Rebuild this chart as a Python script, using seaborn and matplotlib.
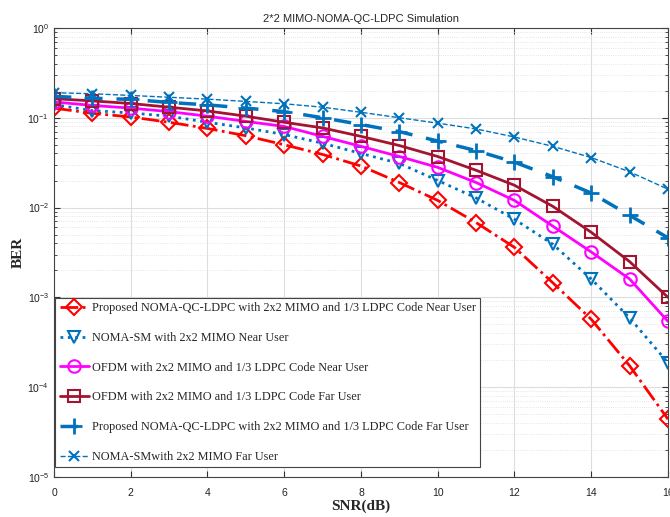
import numpy as np
import pandas as pd
import matplotlib
matplotlib.use("Agg")
import matplotlib.pyplot as plt
import seaborn as sns

snr = list(range(0, 17))

prop_near = [0.128, 0.112, 0.102, 0.089, 0.076, 0.063, 0.050, 0.039, 0.029, 0.019,
             0.012, 0.0068, 0.0036, 0.00145, 5.7e-4, 1.73e-4, 4.4e-5]
sm_near = [0.140, 0.120, 0.113, 0.104, 0.089, 0.077, 0.065, 0.052, 0.040, 0.031,
           0.020, 0.0128, 0.0074, 0.0039, 0.0016, 5.9e-4, 1.87e-4]
ofdm_near = [0.150, 0.137, 0.128, 0.117, 0.104, 0.091, 0.080, 0.062, 0.048, 0.037,
             0.028, 0.019, 0.012, 0.0062, 0.0032, 0.0016, 5.4e-4]
ofdm_far = [0.163, 0.154, 0.144, 0.131, 0.119, 0.104, 0.089, 0.077, 0.062, 0.049,
            0.037, 0.026, 0.0177, 0.0103, 0.0053, 0.0025, 1.0e-3]
prop_far = [0.173, 0.165, 0.160, 0.148, 0.139, 0.128, 0.117, 0.100, 0.084, 0.070,
            0.055, 0.043, 0.032, 0.022, 0.0145, 0.0082, 0.0046]
sm_far = [0.190, 0.185, 0.177, 0.169, 0.161, 0.152, 0.143, 0.131, 0.115, 0.100,
          0.087, 0.075, 0.061, 0.048, 0.036, 0.025, 0.016]

labels = [
    "Proposed NOMA-QC-LDPC with 2x2 MIMO and 1/3 LDPC Code Near User",
    "NOMA-SM with 2x2 MIMO Near User",
    "OFDM with 2x2 MIMO and 1/3 LDPC Code Near User",
    "OFDM with 2x2 MIMO and 1/3 LDPC Code Far User",
    "Proposed NOMA-QC-LDPC with 2x2 MIMO and 1/3 LDPC Code Far User",
    "NOMA-SMwith 2x2 MIMO Far User",
]
series = [prop_near, sm_near, ofdm_near, ofdm_far, prop_far, sm_far]

styles = [
    dict(color="#FF0000", ls="-.", lw=2.0, marker="D", ms=8),
    dict(color="#0072BD", ls=":", lw=2.0, marker="v", ms=9),
    dict(color="#FF00FF", ls="-", lw=2.0, marker="o", ms=9),
    dict(color="#A2142F", ls="-", lw=2.0, marker="s", ms=8),
    dict(color="#0072BD", ls=(0, (5, 4)), lw=2.5, marker="+", ms=12),
    dict(color="#0072BD", ls="--", lw=1.0, marker="x", ms=7),
]

sns.set_style("ticks")
plt.rcParams["font.family"] = ["Liberation Sans", "DejaVu Sans"]

fig = plt.figure(figsize=(6.7, 5.17), dpi=100)
ax = fig.add_axes([0.0806, 0.0774, 0.9164, 0.8686])

for lab, vals, st in zip(labels, series, styles):
    df = pd.DataFrame({"SNR": snr, "BER": vals})
    mew = 2.0 if st["marker"] in ("+",) else 1.5
    sns.lineplot(data=df, x="SNR", y="BER", ax=ax, label=lab,
                 color=st["color"], linestyle=st["ls"], linewidth=st["lw"],
                 marker=st["marker"], markersize=st["ms"],
                 markerfacecolor="none", markeredgecolor=st["color"],
                 markeredgewidth=mew)

ax.set_yscale("log")
ax.set_xlim(0, 16)
ax.set_ylim(1e-5, 1)
ax.set_xticks(range(0, 17, 2))
ax.grid(True, which="major", color="#DDDDDD", lw=0.8, ls="-")
ax.grid(True, which="minor", color="#DDDDDD", lw=0.6, ls=":")
ax.tick_params(which="both", direction="in", top=True, right=True, labelsize=7.5,
               colors="#333333", labelcolor="#222222")
ax.tick_params(axis="x", which="major", pad=8)
ax.tick_params(which="major", length=4)
ax.tick_params(which="minor", length=2)
for sp in ax.spines.values():
    sp.set_color("#444444")
    sp.set_linewidth(0.8)

ax.set_title("2*2 MIMO-NOMA-QC-LDPC Simulation", fontsize=8, pad=4)
ax.set_xlabel("SNR(dB)", fontsize=11, fontweight="bold", family="Liberation Serif", labelpad=1)
ax.set_ylabel("BER", fontsize=11, fontweight="bold", family="Liberation Serif", labelpad=2)

leg = ax.legend(loc="lower left", bbox_to_anchor=(0.002, 0.022), fancybox=False,
                prop={"family": "Liberation Serif", "size": 8.8},
                handlelength=2.4, handletextpad=0.25, labelspacing=1.45,
                borderpad=0.35, borderaxespad=0.0,
                framealpha=1, edgecolor="#444444")
leg.get_frame().set_linewidth(0.8)

fig.savefig("out.png", dpi=100)
